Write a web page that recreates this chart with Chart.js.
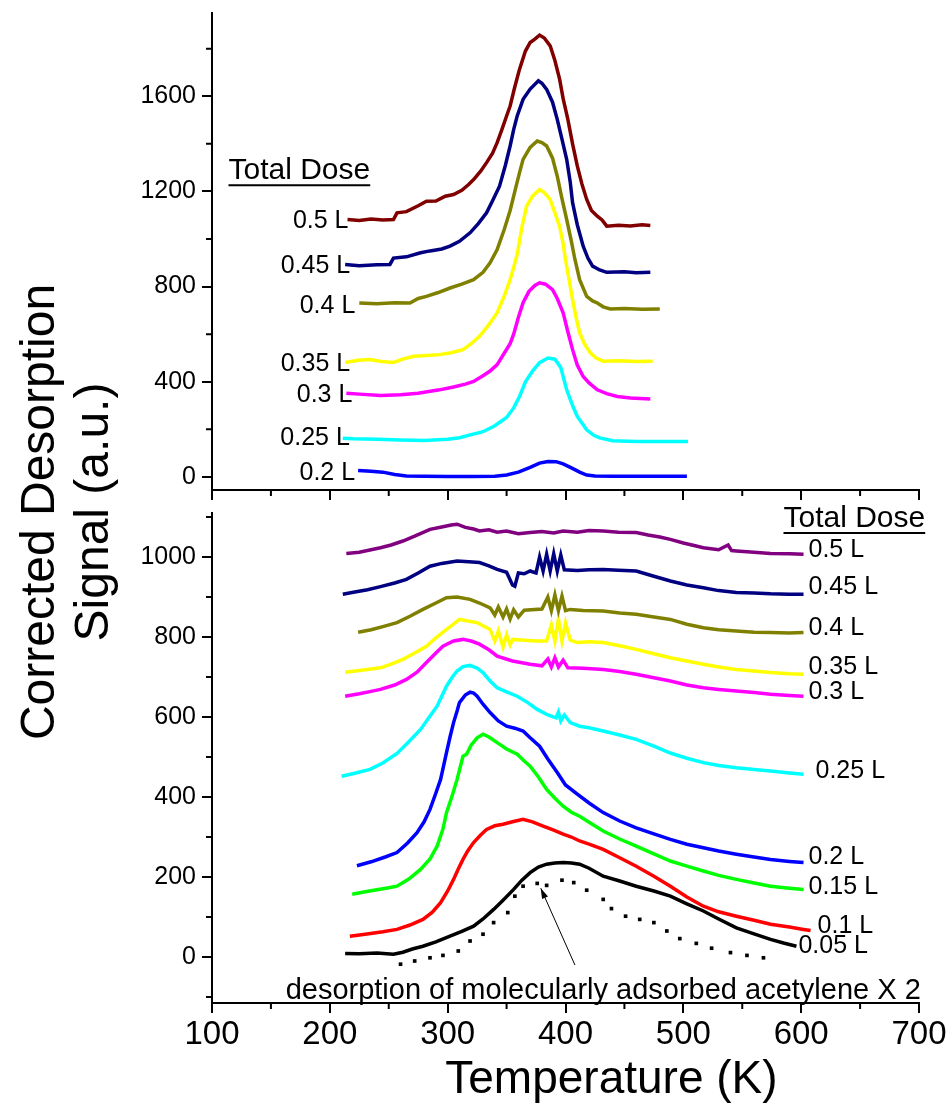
<!DOCTYPE html>
<html>
<head>
<meta charset="utf-8">
<script src="https://cdn.jsdelivr.net/npm/chart.js@4.4.0/dist/chart.umd.min.js"></script>
<style>
  body { margin: 0; background: #fff; }
  #wrap { position: relative; width: 952px; height: 1105px; overflow: hidden; }
  #topBox { position: absolute; left: 0; top: 0; width: 952px; height: 500px; }
  #botBox { position: absolute; left: 0; top: 500px; width: 952px; height: 605px; }
  #yTitle {
    position: absolute; left: -234px; top: 457px; width: 600px; height: 110px;
    transform: rotate(-90deg); text-align: center;
    font: 48px "Liberation Sans", Arial, sans-serif; line-height: 54px; color: #000;
  }
</style>
</head>
<body>
<div id="wrap">
  <div id="topBox"><canvas id="topChart"></canvas></div>
  <div id="botBox"><canvas id="botChart"></canvas></div>
  <div id="yTitle">Corrected Desorption<br>Signal (a.u.)</div>
</div>
<script>
// ---- data: [temperature K, signal a.u.] ----
// upper panel
const topDoses = ['0.5 L', '0.45 L', '0.4 L', '0.35 L', '0.3 L', '0.25 L', '0.2 L'];
const topColors = ['#800000', '#000080', '#808000', '#ffff00', '#ff00ff', '#00ffff', '#0000ff'];

const top05 = [[215,1082],[225,1078],[235,1084],[245,1080],[254,1082],[257,1110],[265,1115],[275,1140],[282,1159],[290,1160],[298,1180],[305,1187],[312,1205],[318,1230],[322,1250],[328,1285],[333,1321],[338,1360],[342,1405],[346,1460],[350,1517],[353,1559],[357,1640],[361,1714],[366,1790],[370,1826],[374,1840],[378,1857],[382,1845],[387,1812],[391,1750],[395,1672],[398,1590],[402,1503],[406,1400],[410,1307],[414,1230],[418,1166],[422,1120],[427,1096],[431,1080],[435,1054],[445,1058],[455,1055],[465,1060],[472,1057]];
const top045 = [[213,893],[225,888],[240,892],[251,893],[254,920],[265,925],[277,942],[285,950],[295,958],[302,970],[310,990],[319,1026],[326,1065],[333,1110],[338,1160],[344,1222],[349,1310],[353,1391],[356,1460],[359,1517],[364,1587],[370,1630],[377,1665],[380,1655],[384,1629],[389,1575],[393,1503],[397,1420],[401,1335],[404,1240],[406,1153],[410,1060],[415,970],[419,920],[423,886],[429,870],[435,860],[450,862],[460,858],[472,860]];
const top04 = [[225,731],[240,728],[255,732],[268,731],[275,750],[282,759],[292,775],[302,794],[312,810],[322,829],[330,860],[336,900],[342,956],[348,1040],[353,1120],[358,1220],[361,1279],[364,1335],[370,1385],[376,1412],[380,1405],[384,1391],[389,1340],[393,1264],[397,1170],[401,1082],[405,990],[408,914],[412,829],[418,759],[423,740],[427,731],[432,715],[438,706],[450,708],[465,705],[480,706]];
const top035 = [[213,481],[224,490],[234,493],[244,485],[254,481],[262,495],[271,507],[282,510],[293,514],[303,522],[313,535],[320,560],[327,591],[335,640],[342,690],[348,760],[353,829],[356,880],[359,935],[363,1050],[367,1138],[372,1180],[378,1208],[382,1195],[387,1166],[391,1110],[395,1054],[398,980],[400,914],[403,830],[406,745],[409,670],[412,606],[416,560],[421,522],[426,500],[432,486],[445,488],[460,485],[474,486]];
const top03 = [[214,352],[225,348],[243,342],[260,345],[275,352],[293,366],[305,378],[315,390],[322,401],[330,425],[336,445],[342,472],[348,520],[353,560],[356,600],[360,670],[364,732],[369,780],[374,805],[378,816],[383,810],[389,787],[393,750],[398,690],[402,610],[406,535],[410,470],[415,422],[420,395],[427,366],[435,350],[444,338],[455,332],[472,328]];
const top025 = [[211,163],[220,160],[240,158],[260,155],[280,153],[300,158],[310,165],[320,178],[330,190],[340,215],[350,250],[356,290],[361,338],[366,400],[372,445],[378,480],[385,500],[391,495],[396,460],[401,366],[406,300],[410,254],[418,198],[424,175],[429,164],[440,152],[460,149],[480,149],[504,149]];
const top02 = [[224,27],[235,24],[245,20],[255,10],[265,4],[280,3],[300,2],[320,2],[340,3],[350,8],[360,20],[370,40],[378,58],[385,65],[392,64],[398,55],[405,38],[412,20],[418,8],[425,4],[440,3],[460,3],[480,3],[503,3]];

// lower panel
const botDoses = ['0.5 L', '0.45 L', '0.4 L', '0.35 L', '0.3 L', '0.25 L', '0.2 L', '0.15 L', '0.1 L', '0.05 L'];
const botColors = ['#800080', '#000080', '#808000', '#ffff00', '#ff00ff', '#00ffff', '#0000ff', '#00ff00', '#ff0000', '#000000'];

const bot05 = [[214,1009],[225,1012],[235,1018],[243,1023],[252,1030],[262,1040],[272,1052],[285,1069],[295,1075],[303,1080],[308,1082],[315,1074],[322,1070],[327,1065],[335,1068],[342,1062],[350,1065],[360,1058],[370,1061],[380,1064],[390,1060],[398,1065],[410,1062],[420,1066],[432,1065],[445,1062],[460,1061],[470,1055],[480,1050],[489,1044],[500,1035],[510,1028],[517,1023],[530,1018],[538,1030],[541,1016],[545,1015],[560,1012],[574,1009],[590,1008],[602,1007]];
const bot045 = [[211,907],[220,912],[232,918],[243,926],[255,935],[265,944],[275,960],[285,977],[295,984],[308,990],[318,988],[327,986],[335,978],[342,969],[350,962],[355,930],[357,927],[360,960],[365,958],[370,965],[375,960],[378,1000],[381,965],[384,1007],[387,965],[390,1008],[393,965],[396,1005],[399,968],[410,966],[420,968],[432,969],[445,967],[460,965],[475,952],[489,940],[503,930],[517,923],[530,916],[545,911],[560,910],[574,908],[590,907],[602,907]];
const bot04 = [[224,812],[235,818],[245,826],[257,836],[268,852],[279,869],[290,885],[299,898],[308,900],[319,894],[327,885],[336,873],[340,855],[343,875],[347,850],[350,870],[353,845],[356,868],[360,850],[365,867],[380,870],[385,900],[388,866],[391,905],[394,866],[397,902],[400,866],[404,869],[415,866],[432,865],[446,860],[460,857],[475,850],[489,844],[503,832],[517,823],[530,818],[545,815],[560,812],[574,811],[590,810],[602,811]];
const bot035 = [[213,712],[225,716],[235,720],[243,723],[252,732],[262,744],[272,760],[282,777],[290,798],[299,819],[305,832],[310,844],[317,840],[325,836],[330,828],[336,819],[340,790],[343,815],[347,775],[350,805],[353,780],[355,794],[365,792],[375,790],[384,790],[388,830],[391,790],[394,845],[397,790],[400,835],[404,792],[410,786],[420,788],[432,786],[446,778],[460,769],[475,758],[489,748],[503,740],[517,732],[530,725],[545,719],[560,715],[574,711],[590,708],[602,707]];
const bot03 = [[213,652],[225,658],[235,664],[243,669],[255,680],[265,694],[274,712],[282,736],[290,760],[296,777],[305,790],[313,794],[320,790],[327,782],[335,768],[342,752],[355,740],[370,732],[380,728],[385,745],[388,725],[391,748],[394,725],[398,742],[402,723],[415,722],[432,719],[446,714],[460,707],[475,698],[489,690],[503,680],[517,673],[530,669],[545,665],[560,661],[574,657],[590,654],[602,652]];
const bot025 = [[210,452],[222,460],[234,469],[245,485],[257,509],[267,538],[277,569],[284,598],[291,627],[299,677],[304,700],[308,715],[313,726],[319,729],[325,722],[330,711],[336,690],[342,673],[350,663],[359,652],[368,636],[376,619],[385,605],[392,598],[394,612],[396,590],[399,605],[404,586],[412,577],[420,573],[432,565],[446,555],[460,544],[475,527],[489,510],[503,497],[517,486],[530,479],[545,473],[560,469],[574,465],[590,460],[602,457]];
const bot02 = [[223,228],[235,238],[247,250],[257,261],[266,285],[274,311],[280,338],[285,369],[290,410],[294,444],[299,511],[302,550],[305,586],[308,615],[310,636],[315,655],[319,662],[322,660],[325,652],[330,632],[336,611],[343,590],[350,577],[357,572],[364,565],[370,548],[378,527],[385,495],[393,461],[400,430],[410,407],[420,385],[432,361],[446,340],[460,323],[475,308],[489,294],[503,282],[517,273],[530,265],[545,257],[560,250],[574,244],[590,239],[602,236]];
const bot015 = [[219,157],[230,163],[240,168],[250,173],[257,177],[267,195],[277,219],[285,245],[291,277],[296,320],[299,361],[304,405],[308,444],[313,502],[316,507],[320,530],[325,548],[330,557],[335,550],[342,536],[350,520],[359,507],[365,490],[370,477],[377,450],[384,419],[391,397],[398,377],[405,362],[412,352],[420,337],[432,315],[446,295],[460,277],[475,258],[489,240],[503,227],[517,215],[530,204],[545,194],[560,185],[574,177],[590,172],[602,169]];
const bot01 = [[217,52],[230,57],[245,63],[257,69],[268,80],[279,94],[287,112],[294,136],[300,165],[305,194],[309,220],[313,244],[317,265],[322,286],[328,305],[333,319],[340,328],[347,332],[355,338],[364,344],[372,338],[381,327],[390,317],[398,307],[405,300],[412,290],[420,282],[432,269],[446,248],[460,227],[475,202],[489,177],[503,150],[517,127],[530,113],[545,102],[560,92],[574,82],[590,75],[602,69],[608,66]];
const bot005 = [[213,9],[225,8],[240,10],[254,7],[262,12],[270,20],[279,27],[290,38],[302,52],[312,64],[322,77],[330,95],[339,119],[347,142],[356,169],[363,192],[370,211],[377,225],[384,232],[391,235],[398,236],[405,235],[412,232],[420,222],[432,202],[446,190],[460,177],[475,165],[489,152],[503,133],[517,115],[530,95],[545,73],[560,58],[574,44],[585,35],[596,27]];
// molecularly adsorbed acetylene (x2), dotted
const molecular = [[260,-18],[272,-10],[285,-2],[296,4],[309,15],[319,40],[330,57],[339,86],[351,111],[357,152],[364,177],[376,184],[384,179],[397,192],[407,186],[418,167],[432,144],[439,121],[451,102],[463,94],[475,86],[486,65],[497,46],[511,34],[524,22],[540,11],[554,4],[568,-2]];

// axes
const xTicks = [100, 200, 300, 400, 500, 600, 700];
const xMinor = [150, 250, 350, 450, 550, 650];
const topYTicks = [0, 400, 800, 1200, 1600];
const topYMinor = [200, 600, 1000, 1400, 1800];
const botYTicks = [0, 200, 400, 600, 800, 1000];
const botYMinor = [-100, 100, 300, 500, 700, 900, 1100];

const topSeries = [top05, top045, top04, top035, top03, top025, top02];
const botSeries = [bot05, bot045, bot04, bot035, bot03, bot025, bot02, bot015, bot01, bot005];

const FONT = '"Liberation Sans", Arial, sans-serif';

function toXY(arr) { return arr.map(p => ({ x: p[0], y: p[1] })); }

function lineSets(series, colors) {
  return series.map((s, i) => ({
    data: toXY(s), showLine: true, borderColor: colors[i], borderWidth: 3.5,
    pointRadius: 0, tension: 0, fill: false
  }));
}

// minor ticks, dose labels, headers, axis title, arrow, note
const decor = {
  id: 'decor',
  afterDraw(chart, args, o) {
    const ctx = chart.ctx, xs = chart.scales.x, ys = chart.scales.y, a = chart.chartArea;
    ctx.save();
    ctx.strokeStyle = '#000'; ctx.lineWidth = 2;
    ctx.beginPath();
    xMinor.forEach(v => { const px = xs.getPixelForValue(v); ctx.moveTo(px, a.bottom); ctx.lineTo(px, a.bottom + 6); });
    o.yMinor.forEach(v => { const py = ys.getPixelForValue(v); ctx.moveTo(a.left, py); ctx.lineTo(a.left - 6, py); });
    ctx.stroke();

    ctx.fillStyle = '#000';
    ctx.textBaseline = 'middle';
    ctx.font = '25px ' + FONT;
    o.series.forEach((s, i) => {
      const p = o.atStart ? s[0] : s[s.length - 1];
      const px = xs.getPixelForValue(p[0]) + o.dx[i], py = ys.getPixelForValue(p[1]) + o.dy[i];
      ctx.textAlign = o.atStart ? 'right' : 'left';
      ctx.fillText(o.doses[i], px, py);
    });

    // "Total Dose" header, underlined
    ctx.font = '30px ' + FONT;
    ctx.textAlign = 'left';
    const hx = xs.getPixelForValue(o.header[0]), hy = ys.getPixelForValue(o.header[1]);
    ctx.fillText('Total Dose', hx, hy);
    const w = ctx.measureText('Total Dose').width;
    ctx.beginPath(); ctx.moveTo(hx, hy + 14); ctx.lineTo(hx + w, hy + 14); ctx.stroke();

    if (o.xTitle) {
      ctx.font = '46px ' + FONT;
      ctx.textAlign = 'center';
      ctx.fillText(o.xTitle.text, xs.getPixelForValue(o.xTitle.at), a.bottom + 77);
    }

    if (o.note) {
      ctx.font = '29px ' + FONT;
      ctx.textAlign = 'center';
      ctx.fillText(o.note.text, xs.getPixelForValue(o.note.at[0]), ys.getPixelForValue(o.note.at[1]));
      const x0 = xs.getPixelForValue(o.note.from[0]), y0 = ys.getPixelForValue(o.note.from[1]);
      const x1 = xs.getPixelForValue(o.note.to[0]), y1 = ys.getPixelForValue(o.note.to[1]);
      const ang = Math.atan2(y1 - y0, x1 - x0);
      ctx.lineWidth = 1;
      ctx.beginPath(); ctx.moveTo(x0, y0); ctx.lineTo(x1, y1); ctx.stroke();
      ctx.beginPath();
      ctx.moveTo(x1, y1);
      ctx.lineTo(x1 - 11 * Math.cos(ang - 0.3), y1 - 11 * Math.sin(ang - 0.3));
      ctx.lineTo(x1 - 11 * Math.cos(ang + 0.3), y1 - 11 * Math.sin(ang + 0.3));
      ctx.closePath(); ctx.fill();
    }
    ctx.restore();
  }
};

function xScale(showLabels) {
  return {
    type: 'linear', min: 100, max: 700,
    afterBuildTicks: s => { s.ticks = xTicks.map(v => ({ value: v })); },
    afterFit: s => { s.height = showLabels ? 102 : 10; s.paddingLeft = 0; s.paddingRight = 0; },
    grid: { drawOnChartArea: false, drawTicks: true, tickLength: 10, color: '#000', lineWidth: 2 },
    border: { display: true, color: '#000', width: 2 },
    ticks: { display: showLabels, color: '#000', padding: 2, maxRotation: 0,
             callback: v => String(v), font: { family: FONT, size: 33 } }
  };
}

function yScale(min, max, ticks) {
  return {
    type: 'linear', min: min, max: max,
    afterBuildTicks: s => { s.ticks = ticks.map(v => ({ value: v })); },
    afterFit: s => { s.width = 212; s.paddingTop = 0; s.paddingBottom = 0; },
    grid: { drawOnChartArea: false, drawTicks: true, tickLength: 10, color: '#000', lineWidth: 2 },
    border: { display: true, color: '#000', width: 2 },
    ticks: { color: '#000', padding: 6, callback: v => String(v), font: { family: FONT, size: 25 } }
  };
}

const common = {
  responsive: true, maintainAspectRatio: false, animation: false, events: [],
  plugins: { legend: { display: false }, tooltip: { enabled: false } }
};

new Chart(document.getElementById('topChart'), {
  type: 'scatter',
  data: { datasets: lineSets(topSeries, topColors) },
  options: {
    ...common,
    layout: { padding: { top: 13, right: 33, left: 0, bottom: 0 } },
    scales: { x: xScale(false), y: yScale(-55, 1950, topYTicks) },
    plugins: { ...common.plugins,
      decor: { series: topSeries, doses: topDoses, atStart: true, yMinor: topYMinor, header: [114, 1285],
               dx: [1, 5, -4, 5, 6, 7, -3], dy: [2, 2, 3, 2, 2, 0, 3] } }
  },
  plugins: [decor]
});

const botSets = lineSets(botSeries, botColors);
botSets.push({ data: toXY(molecular), showLine: false, pointStyle: 'rect', pointRadius: 2.6,
               backgroundColor: '#000', borderColor: '#000', borderWidth: 0 });

new Chart(document.getElementById('botChart'), {
  type: 'scatter',
  data: { datasets: botSets },
  options: {
    ...common,
    layout: { padding: { top: 13, right: 33, left: 0, bottom: 0 } },
    scales: { x: xScale(true), y: yScale(-115, 1110, botYTicks) },
    plugins: { ...common.plugins,
      decor: { series: botSeries, doses: botDoses, atStart: false, yMinor: botYMinor, header: [585, 1095],
               dx: [5, 5, 5, 5, 5, 12, 5, 5, 7, 2], dy: [-4, -7, -4, -7, -4, -3, -5, -2, -4, 0],
               xTitle: { text: 'Temperature (K)', at: 439 },
               note: { text: 'desorption of molecularly adsorbed acetylene X 2', at: [432, -85],
                       from: [408, -20], to: [379, 172] } } }
  },
  plugins: [decor]
});
</script>
</body>
</html>
